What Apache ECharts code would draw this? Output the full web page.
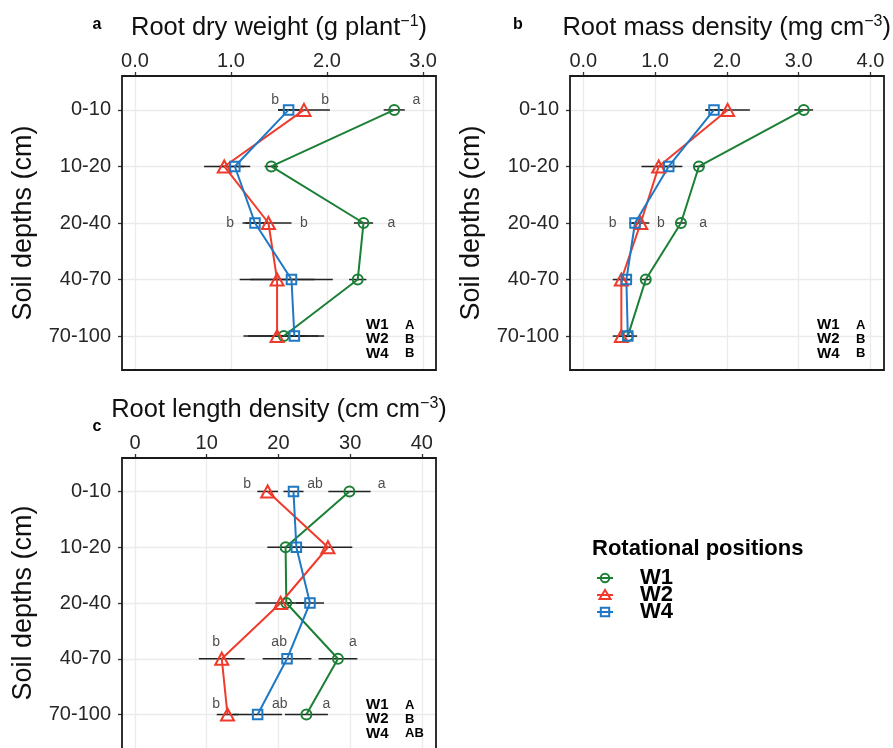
<!DOCTYPE html>
<html><head><meta charset="utf-8">
<script src="https://cdn.jsdelivr.net/npm/echarts@6/dist/echarts.min.js"></script>
<style>html,body{margin:0;padding:0;background:#fff}#c{width:893px;height:748px}</style>
</head><body><div id="c"></div>
<script>
const FONT = '"Liberation Sans", Arial, Helvetica, sans-serif';
const depths = ['0-10', '10-20', '20-40', '40-70', '70-100'];
const depthPos = [1, 2, 3, 4, 5];
const seriesNames = ['W1', 'W2', 'W4'];
const colors = ['#1b7f35', '#ef3b2c', '#1f78c4'];

// Panel a: Root dry weight (g plant-1)
const dryW1 = [2.70, 1.42, 2.38, 2.32, 1.55];
const dryW2 = [1.76, 0.93, 1.39, 1.48, 1.48];
const dryW4 = [1.60, 1.04, 1.25, 1.63, 1.66];
const dryErrW1 = [0.11, 0.07, 0.10, 0.09, 0.42];
const dryErrW2 = [0.27, 0.21, 0.24, 0.39, 0.30];
const dryErrW4 = [0.11, 0.16, 0.13, 0.43, 0.25];
const dryTicks = [0, 1, 2, 3];
const dryLetterX = [1.46, 1.98, 2.93, 0.99, 1.76, 2.67];
const dryLetterY = [0.82, 0.82, 0.82, 3, 3, 3];
const dryLetters = ['b', 'b', 'a', 'b', 'b', 'a'];
const dryOverall = ['A', 'B', 'B'];

// Panel b: Root mass density (mg cm-3)
const rmdW1 = [3.07, 1.61, 1.36, 0.87, 0.62];
const rmdW2 = [2.01, 1.05, 0.80, 0.53, 0.53];
const rmdW4 = [1.82, 1.19, 0.72, 0.60, 0.62];
const rmdErrW1 = [0.13, 0.08, 0.06, 0.06, 0.05];
const rmdErrW2 = [0.31, 0.24, 0.12, 0.12, 0.12];
const rmdErrW4 = [0.12, 0.19, 0.08, 0.06, 0.13];
const rmdTicks = [0, 1, 2, 3, 4];
const rmdLetterX = [0.41, 1.08, 1.67];
const rmdLetterY = [3, 3, 3];
const rmdLetters = ['b', 'b', 'a'];
const rmdOverall = ['A', 'B', 'B'];

// Panel c: Root length density (cm cm-3)
const rldW1 = [29.9, 21.0, 21.1, 28.3, 23.9];
const rldW2 = [18.5, 26.9, 20.3, 12.1, 12.9];
const rldW4 = [22.1, 22.5, 24.4, 21.2, 17.1];
const rldErrW1 = [2.95, 2.55, 1.0, 2.7, 3.0];
const rldErrW2 = [1.45, 3.4, 3.5, 3.2, 1.5];
const rldErrW4 = [1.4, 1.0, 1.95, 3.4, 3.4];
const rldTicks = [0, 10, 20, 30, 40];
const rldLetterX = [15.65, 25.1, 34.4, 11.3, 20.1, 30.4, 11.3, 20.2, 26.7];
const rldLetterY = [0.87, 0.87, 0.87, 3.71, 3.71, 3.71, 4.81, 4.81, 4.81];
const rldLetters = ['b', 'ab', 'a', 'b', 'ab', 'a', 'b', 'ab', 'a'];
const rldOverall = ['A', 'B', 'AB'];

const panels = [
  { grid: { left: 122, top: 76, width: 314, height: 294 }, min: -0.135, max: 3.135, split: 7,
    ticks: dryTicks, fmt: v => v.toFixed(1), title: ['Root dry weight (g plant', '−1', ')'],
    means: [dryW1, dryW2, dryW4], errs: [dryErrW1, dryErrW2, dryErrW4],
    lx: dryLetterX, ly: dryLetterY, lt: dryLetters, overall: dryOverall, tag: 'a' },
  { grid: { left: 570, top: 76, width: 314, height: 294 }, min: -0.185, max: 4.18, split: 9,
    ticks: rmdTicks, fmt: v => v.toFixed(1), title: ['Root mass density (mg cm', '−3', ')'],
    means: [rmdW1, rmdW2, rmdW4], errs: [rmdErrW1, rmdErrW2, rmdErrW4],
    lx: rmdLetterX, ly: rmdLetterY, lt: rmdLetters, overall: rmdOverall, tag: 'b' },
  { grid: { left: 122, top: 458, width: 314, height: 294 }, min: -1.81, max: 41.97, split: 9,
    ticks: rldTicks, fmt: v => String(v), title: ['Root length density (cm cm', '−3', ')'],
    means: [rldW1, rldW2, rldW4], errs: [rldErrW1, rldErrW2, rldErrW4],
    lx: rldLetterX, ly: rldLetterY, lt: rldLetters, overall: rldOverall, tag: 'c' }
];

const symbolDefs = [
  { symbol: 'circle', size: 10 },
  { symbol: 'triangle', size: [13, 12] },
  { symbol: 'rect', size: 9.5 }
];

const grids = [], xAxes = [], yAxes = [], series = [], graphics = [];

panels.forEach((p, pi) => {
  grids.push(Object.assign({ containLabel: false }, p.grid));
  xAxes.push({
    type: 'value', gridIndex: pi, position: 'top', min: p.min, max: p.max, splitNumber: p.split,
    name: '{n|' + p.title[0] + '}{s|' + p.title[1] + '}{n|' + p.title[2] + '}',
    nameLocation: 'middle', nameGap: 34,
    nameTextStyle: { color: '#111', fontFamily: FONT,
      rich: { n: { fontSize: 25.5, color: '#111', fontFamily: FONT },
              s: { fontSize: 16, color: '#111', fontFamily: FONT, padding: [0, 0, 12, 0] } } },
    axisLine: { show: false, onZero: false },
    axisTick: { show: true, customValues: p.ticks, length: 4, lineStyle: { color: '#333', width: 1.3 } },
    axisLabel: { customValues: p.ticks, formatter: p.fmt, fontSize: 20, color: '#262626', margin: 5, fontFamily: FONT },
    splitLine: { show: true, lineStyle: { color: '#ebebeb', width: 1.3 } }
  });
  yAxes.push({
    type: 'value', gridIndex: pi, inverse: true, min: 0.4, max: 5.6, splitNumber: 5,
    name: 'Soil depths (cm)', nameLocation: 'middle', nameGap: 85, nameRotate: 90,
    nameTextStyle: { fontSize: 27, color: '#111', fontFamily: FONT },
    axisLine: { show: false, onZero: false },
    axisTick: { show: true, customValues: depthPos, length: 4, lineStyle: { color: '#333', width: 1.3 } },
    axisLabel: { customValues: depthPos, formatter: v => depths[Math.round(v) - 1], fontSize: 20,
      color: '#262626', margin: 11, fontFamily: FONT },
    splitLine: { show: true, lineStyle: { color: '#ebebeb', width: 1.3 } }
  });
  // error bars
  p.means.forEach((m, si) => {
    series.push({
      type: 'custom', xAxisIndex: pi, yAxisIndex: pi, z: 2, silent: true,
      data: depthPos.map((y, i) => [m[i], p.errs[si][i], y]),
      encode: { x: 0, y: 2 },
      renderItem: (params, api) => {
        const mv = api.value(0), e = api.value(1), yv = api.value(2);
        const a = api.coord([mv - e, yv]), b = api.coord([mv + e, yv]);
        return { type: 'line', shape: { x1: a[0], y1: a[1], x2: b[0], y2: b[1] },
          style: { stroke: '#222', lineWidth: 1.5 } };
      }
    });
  });
  // lines + symbols
  p.means.forEach((m, si) => {
    series.push({
      type: 'line', name: seriesNames[si], xAxisIndex: pi, yAxisIndex: pi, z: 3,
      data: depthPos.map((y, i) => [m[i], y]),
      symbol: symbolDefs[si].symbol, symbolSize: symbolDefs[si].size, showAllSymbol: true,
      itemStyle: { color: 'rgba(255,255,255,0)', borderColor: colors[si], borderWidth: 2 },
      lineStyle: { color: colors[si], width: 2 },
      emphasis: { disabled: true }, silent: true
    });
  });
  // significance letters
  series.push({
    type: 'scatter', xAxisIndex: pi, yAxisIndex: pi, z: 4, silent: true,
    symbolSize: 1, itemStyle: { color: 'rgba(0,0,0,0)' },
    data: p.lx.map((x, i) => ({ value: [x, p.ly[i]], name: p.lt[i] })),
    label: { show: true, position: 'inside', formatter: '{b}', fontSize: 14, color: '#222', fontFamily: FONT }
  });
  // frame
  graphics.push({ type: 'rect', z: 100, silent: true,
    shape: { x: p.grid.left, y: p.grid.top, width: p.grid.width, height: p.grid.height },
    style: { fill: 'none', stroke: '#1a1a1a', lineWidth: 1.8 } });
});

// panel tags
graphics.push({ type: 'text', z: 100, x: 97, y: 25, style: { text: 'a', font: 'bold 16px ' + FONT, fill: '#000', textAlign: 'center', textVerticalAlign: 'middle' } });
graphics.push({ type: 'text', z: 100, x: 518, y: 25, style: { text: 'b', font: 'bold 16px ' + FONT, fill: '#000', textAlign: 'center', textVerticalAlign: 'middle' } });
graphics.push({ type: 'text', z: 100, x: 97, y: 427, style: { text: 'c', font: 'bold 16px ' + FONT, fill: '#000', textAlign: 'center', textVerticalAlign: 'middle' } });

// inset overall letters
const insetPos = [[366, 405, 325], [817, 856, 325], [366, 405, 705]];
panels.forEach((p, pi) => {
  const [wx, lx, y0] = insetPos[pi];
  seriesNames.forEach((nm, k) => {
    const yy = y0 + k * 14.3;
    graphics.push({ type: 'text', z: 100, x: wx, y: yy, style: { text: nm, font: 'bold 15px ' + FONT, fill: '#000', textVerticalAlign: 'middle' } });
    graphics.push({ type: 'text', z: 100, x: lx, y: yy, style: { text: p.overall[k], font: 'bold 13px ' + FONT, fill: '#000', textVerticalAlign: 'middle' } });
  });
});

// legend
graphics.push({ type: 'text', z: 100, x: 592, y: 549, style: { text: 'Rotational positions', font: 'bold 22px ' + FONT, fill: '#000', textVerticalAlign: 'middle' } });
const legY = [578, 595, 612];
const lx0 = 605;
seriesNames.forEach((nm, k) => {
  const y = legY[k];
  graphics.push({ type: 'line', z: 100, shape: { x1: lx0 - 8, y1: y, x2: lx0 + 8, y2: y }, style: { stroke: colors[k], lineWidth: 2 } });
  if (k === 0) graphics.push({ type: 'circle', z: 100, shape: { cx: lx0, cy: y, r: 4.2 }, style: { fill: 'none', stroke: colors[k], lineWidth: 2 } });
  if (k === 1) graphics.push({ type: 'polygon', z: 100, shape: { points: [[lx0, y - 5], [lx0 - 5.5, y + 4], [lx0 + 5.5, y + 4]] }, style: { fill: 'none', stroke: colors[k], lineWidth: 2 } });
  if (k === 2) graphics.push({ type: 'rect', z: 100, shape: { x: lx0 - 4.2, y: y - 4.2, width: 8.4, height: 8.4 }, style: { fill: 'none', stroke: colors[k], lineWidth: 2 } });
  graphics.push({ type: 'text', z: 100, x: 640, y: y, style: { text: nm, font: 'bold 22px ' + FONT, fill: '#000', textVerticalAlign: 'middle' } });
});

const chart = echarts.init(document.getElementById('c'), null, { renderer: 'canvas' });
chart.setOption({
  animation: false,
  backgroundColor: '#fff',
  textStyle: { fontFamily: FONT },
  grid: grids, xAxis: xAxes, yAxis: yAxes, series: series, graphic: graphics
});
</script></body></html>
